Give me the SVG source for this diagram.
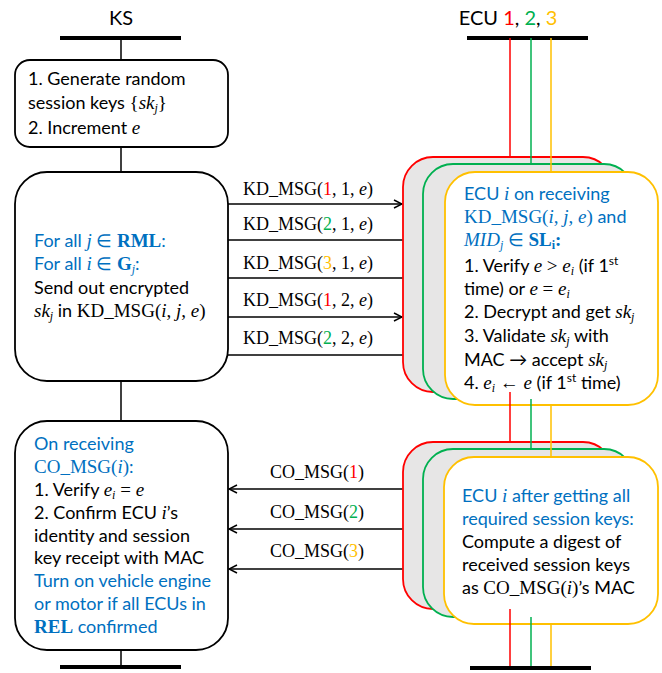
<svg xmlns="http://www.w3.org/2000/svg" width="662" height="673" viewBox="0 0 662 673">
<defs>
<style>
.t{font-family:Lato,"Liberation Sans",sans-serif;font-size:18px;fill:#000}
.ttl{font-family:Lato,"Liberation Sans",sans-serif;font-size:20px;fill:#000}
.bl{fill:#0070c0}
.m{font-family:"Liberation Serif","DejaVu Serif",serif;font-style:italic;font-size:19px}
.u{font-family:"Liberation Serif","DejaVu Serif",serif;font-style:normal;font-size:19px}
.bd{font-family:"Liberation Serif","DejaVu Serif",serif;font-weight:bold;font-style:normal;font-size:19px}
.s{font-size:12px}
.lbl{font-family:"Liberation Serif","DejaVu Serif",serif;font-size:18px;fill:#000;text-anchor:middle}
.r{fill:#ff0000}.g{fill:#00b050}.y{fill:#ffc000}
.box{fill:#fff;stroke:#000;stroke-width:1.8}
.bar{stroke:#000;stroke-width:4}
.ln{stroke:#000;stroke-width:1.5;fill:none}
.arr{stroke:#000;stroke-width:1.5;fill:none;marker-end:url(#ah)}
.rb{fill:#e7e6e6;stroke:#ff0000;stroke-width:1.8}
.gb{fill:#e7e6e6;stroke:#00b050;stroke-width:1.8}
.yb{fill:#fff;stroke:#ffc000;stroke-width:1.8}
.rl{stroke:#ff0000;stroke-width:1.5}
.gl{stroke:#00b050;stroke-width:1.5}
.yl{stroke:#ffc000;stroke-width:1.5}
</style>
<marker id="ah" markerWidth="10" markerHeight="10" refX="9" refY="5" orient="auto" markerUnits="userSpaceOnUse">
<path d="M1,1 L9,5 L1,9" fill="none" stroke="#000" stroke-width="1.5"/>
</marker>
</defs>
<rect width="662" height="673" fill="#fff"/>

<g id="ks-head">
<text class="ttl" x="121" y="25" text-anchor="middle">KS</text>
<line class="bar" x1="60" y1="38" x2="181" y2="38"/>
<line class="bar" x1="60" y1="667" x2="181" y2="667"/>
</g>
<g id="ecu-head">
<text class="ttl" x="508" y="25" text-anchor="middle">ECU <tspan class="r">1</tspan>, <tspan class="g">2</tspan>, <tspan class="y">3</tspan></text>
<line class="bar" x1="467" y1="38" x2="588" y2="38"/>
<line class="bar" x1="470" y1="668" x2="591" y2="668"/>
</g>

<g id="connectors">
<line class="ln" x1="121" y1="38" x2="121" y2="60"/>
<line class="ln" x1="121" y1="147" x2="121" y2="172"/>
<line class="ln" x1="121" y1="381" x2="121" y2="421"/>
<line class="ln" x1="121" y1="650" x2="121" y2="667"/>
<line class="arr" x1="228" y1="204" x2="402" y2="204"/>
<line class="arr" x1="228" y1="240" x2="422" y2="240"/>
<line class="arr" x1="228" y1="278" x2="444" y2="278"/>
<line class="arr" x1="228" y1="317" x2="402" y2="317"/>
<line class="arr" x1="228" y1="355" x2="422" y2="355"/>
<line class="arr" x1="403" y1="489" x2="229" y2="489"/>
<line class="arr" x1="423" y1="529" x2="229" y2="529"/>
<line class="arr" x1="444" y1="569" x2="229" y2="569"/>
<text class="lbl" x="308" y="195">KD_MSG(<tspan class="r">1</tspan>, 1, <tspan font-style="italic">e</tspan>)</text>
<text class="lbl" x="308" y="230">KD_MSG(<tspan class="g">2</tspan>, 1, <tspan font-style="italic">e</tspan>)</text>
<text class="lbl" x="308" y="269">KD_MSG(<tspan class="y">3</tspan>, 1, <tspan font-style="italic">e</tspan>)</text>
<text class="lbl" x="308" y="306">KD_MSG(<tspan class="r">1</tspan>, 2, <tspan font-style="italic">e</tspan>)</text>
<text class="lbl" x="308" y="344">KD_MSG(<tspan class="g">2</tspan>, 2, <tspan font-style="italic">e</tspan>)</text>
<text class="lbl" x="317" y="478">CO_MSG(<tspan class="r">1</tspan>)</text>
<text class="lbl" x="317" y="518">CO_MSG(<tspan class="g">2</tspan>)</text>
<text class="lbl" x="317" y="557">CO_MSG(<tspan class="y">3</tspan>)</text>
</g>

<g id="ks-generate">
<rect class="box" x="15" y="60" width="213" height="87" rx="15"/>
<text class="t" x="28" y="85">1. Generate random</text>
<text class="t" x="28" y="109">session keys <tspan class="u">{</tspan><tspan class="m">sk</tspan><tspan class="m s" dy="3">j</tspan><tspan class="u" dy="-3">}</tspan></text>
<text class="t" x="28" y="134">2. Increment <tspan class="m">e</tspan></text>
</g>

<g id="ks-send">
<rect class="box" x="15" y="172" width="213" height="209" rx="32"/>
<text class="t bl" x="34" y="247">For all <tspan class="m">j</tspan> ∈ <tspan class="bd">RML</tspan>:</text>
<text class="t bl" x="34" y="270">For all <tspan class="m">i</tspan> ∈ <tspan class="bd">G</tspan><tspan class="m s" dy="3">j</tspan><tspan dy="-3">:</tspan></text>
<text class="t" x="34" y="294">Send out encrypted</text>
<text class="t" x="34" y="317"><tspan class="m">sk</tspan><tspan class="m s" dy="3">j</tspan><tspan dy="-3"> in </tspan><tspan class="u">KD_MSG(</tspan><tspan class="m">i</tspan><tspan class="u">, </tspan><tspan class="m">j</tspan><tspan class="u">, </tspan><tspan class="m">e</tspan><tspan class="u">)</tspan></text>
</g>

<g id="ks-confirm">
<rect class="box" x="15" y="421" width="213" height="229" rx="32"/>
<text class="t bl" x="34" y="450">On receiving</text>
<text class="t bl" x="34" y="473"><tspan class="u">CO_MSG(</tspan><tspan class="m">i</tspan><tspan class="u">)</tspan>:</text>
<text class="t" x="34" y="496">1. Verify <tspan class="m">e</tspan><tspan class="m s" dy="3">i</tspan><tspan class="u" dy="-3"> = </tspan><tspan class="m">e</tspan></text>
<text class="t" x="34" y="519">2. Confirm ECU <tspan class="m">i</tspan>’s</text>
<text class="t" x="34" y="542">identity and session</text>
<text class="t" x="34" y="564">key receipt with MAC</text>
<text class="t bl" x="34" y="587">Turn on vehicle engine</text>
<text class="t bl" x="34" y="610">or motor if all ECUs in</text>
<text class="t bl" x="34" y="633"><tspan class="bd">REL</tspan> confirmed</text>
</g>

<g id="ecu-receive">
<rect class="rb" x="403" y="157" width="210" height="235" rx="30"/>
<rect class="gb" x="423" y="164" width="211" height="235" rx="30"/>
<rect class="yb" x="445" y="172" width="213" height="233" rx="30"/>
<text class="t bl" x="464" y="200">ECU <tspan class="m">i</tspan> on receiving</text>
<text class="t bl" x="464" y="223"><tspan class="u">KD_MSG(</tspan><tspan class="m">i</tspan><tspan class="u">, </tspan><tspan class="m">j</tspan><tspan class="u">, </tspan><tspan class="m">e</tspan><tspan class="u">)</tspan> and</text>
<text class="t bl" x="464" y="246"><tspan class="m">MID</tspan><tspan class="m s" dy="3">j</tspan><tspan dy="-3"> ∈ </tspan><tspan class="bd">SL</tspan><tspan class="bd s" dy="3">i</tspan><tspan class="bd" dy="-3">:</tspan></text>
<text class="t" x="464" y="272">1. Verify <tspan class="m">e</tspan><tspan class="u"> &gt; </tspan><tspan class="m">e</tspan><tspan class="m s" dy="3">i</tspan><tspan dy="-3"> (if 1</tspan><tspan class="s" dy="-7">st</tspan></text>
<text class="t" x="464" y="295">time) or <tspan class="m">e</tspan><tspan class="u"> = </tspan><tspan class="m">e</tspan><tspan class="m s" dy="3">i</tspan></text>
<text class="t" x="464" y="318">2. Decrypt and get <tspan class="m">sk</tspan><tspan class="m s" dy="3">j</tspan></text>
<text class="t" x="464" y="342">3. Validate <tspan class="m">sk</tspan><tspan class="m s" dy="3">j</tspan><tspan dy="-3"> with</tspan></text>
<text class="t" x="464" y="366">MAC → accept <tspan class="m">sk</tspan><tspan class="m s" dy="3">j</tspan></text>
<text class="t" x="464" y="389">4. <tspan class="m">e</tspan><tspan class="m s" dy="3">i</tspan><tspan class="u" dy="-3"> ← </tspan><tspan class="m">e</tspan> (if 1<tspan class="s" dy="-7">st</tspan><tspan dy="7"> time)</tspan></text>
</g>

<g id="ecu-digest">
<rect class="rb" x="403" y="442" width="210" height="167" rx="30"/>
<rect class="gb" x="423" y="449" width="211" height="168" rx="30"/>
<rect class="yb" x="444" y="457" width="214" height="167" rx="30"/>
<text class="t bl" x="462" y="502">ECU <tspan class="m">i</tspan> after getting all</text>
<text class="t bl" x="462" y="525">required session keys:</text>
<text class="t" x="462" y="548">Compute a digest of</text>
<text class="t" x="462" y="571">received session keys</text>
<text class="t" x="462" y="594">as <tspan class="u">CO_MSG(</tspan><tspan class="m">i</tspan><tspan class="u">)</tspan>’s MAC</text>
</g>

<g id="ecu-lifelines">
<line class="rl" x1="510" y1="38" x2="510" y2="157"/>
<line class="gl" x1="531" y1="38" x2="531" y2="164"/>
<line class="yl" x1="551" y1="38" x2="551" y2="172"/>
<line class="rl" x1="510" y1="392" x2="510" y2="442"/>
<line class="gl" x1="531" y1="399" x2="531" y2="449"/>
<line class="yl" x1="551" y1="405" x2="551" y2="457"/>
<line class="rl" x1="510" y1="609" x2="510" y2="666"/>
<line class="gl" x1="531" y1="617" x2="531" y2="666"/>
<line class="yl" x1="551" y1="624" x2="551" y2="666"/>
</g>
</svg>
